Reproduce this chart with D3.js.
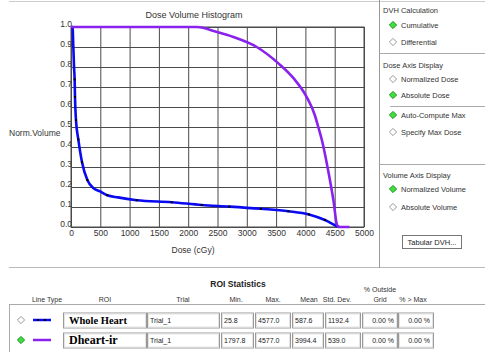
<!DOCTYPE html>
<html>
<head>
<meta charset="utf-8">
<script src="https://cdn.jsdelivr.net/npm/d3@7"></script>
<style>
  body { margin: 0; background: #fff; }
  svg { display: block; font-family: "Liberation Sans", Arial, sans-serif; }
</style>
</head>
<body>
<svg id="svg" width="485" height="354"></svg>
<script>
// ---- chart data ----
const doseTicks = [0, 500, 1000, 1500, 2000, 2500, 3000, 3500, 4000, 4500, 5000];
const volTicks = [0, 0.1, 0.2, 0.3, 0.4, 0.5, 0.6, 0.7, 0.8, 0.9, 1.0];

const heartDose = [0, 26, 40, 52, 62, 68, 85, 125, 188, 279, 381, 495, 620, 800, 1121, 1718, 2230, 2702, 3242, 3709, 4061, 4334, 4534, 4577];
const heartVol  = [1.0, 1.0, 0.9, 0.8, 0.738, 0.651, 0.534, 0.438, 0.324, 0.235, 0.195, 0.178, 0.159, 0.148, 0.134, 0.124, 0.11, 0.102, 0.091, 0.079, 0.063, 0.035, 0.005, 0];
const heartMarks = [4, 5, 6, 7, 8, 9, 12, 14, 15, 16, 17, 18, 19, 20, 21]; // points drawn with a dot

const dheartDose = [0, 2150, 2490, 2770, 3170, 3540, 3800, 4020, 4160, 4220, 4280, 4390, 4480, 4540, 4577, 4750];
const dheartVol  = [1.0, 1.0, 0.975, 0.95, 0.9, 0.818, 0.743, 0.651, 0.56, 0.5, 0.436, 0.28, 0.13, 0.01, 0, 0];

// ---- ROI statistics ----
const roiNames   = ["Whole Heart", "Dheart-ir"];
const roiColors  = ["#0a0af0", "#8a22ee"];
const roiShown   = [false, true];
const trials     = ["Trial_1", "Trial_1"];
const minDose    = ["25.8", "1797.8"];
const maxDose    = ["4577.0", "4577.0"];
const meanDose   = ["587.6", "3994.4"];
const stdDev     = ["1192.4", "539.0"];
const pctOutside = ["0.00 %", "0.00 %"];
const pctOverMax = ["0.00 %", "0.00 %"];

// ---- option panel ----
const panelTitles = ["DVH Calculation", "Dose Axis Display", "Volume Axis Display"];
const panelItems = [
  ["Cumulative", "Differential"],
  ["Normalized Dose", "Absolute Dose", "Auto-Compute Max", "Specify Max Dose"],
  ["Normalized Volume", "Absolute Volume"]
];
const panelChecked = [[true, false], [false, true, true, false], [true, false]];

const svg = d3.select("#svg");
const ink = "#333";

// frame lines
svg.append("line").attr("x1", 9).attr("x2", 485).attr("y1", 1.5).attr("y2", 1.5).attr("stroke", "#ccc");
svg.append("line").attr("x1", 9).attr("x2", 485).attr("y1", 267.5).attr("y2", 267.5).attr("stroke", "#bbb");
svg.append("line").attr("x1", 379.5).attr("x2", 379.5).attr("y1", 0).attr("y2", 268).attr("stroke", "#999");

// ---- plot ----
const x = d3.scaleLinear().domain([0, 5000]).range([71, 364]);
const y = d3.scaleLinear().domain([0, 1]).range([227, 27]);

const plot = svg.append("g");

const gx = plot.append("g").attr("transform", "translate(0,227)")
  .call(d3.axisBottom(x).tickValues(doseTicks).tickFormat(d3.format("d")).tickSize(-200).tickPadding(2));
const gy = plot.append("g").attr("transform", "translate(71,0)")
  .call(d3.axisLeft(y).tickValues(volTicks).tickFormat(d3.format(".1f")).tickSize(-293).tickPadding(0));

[gx, gy].forEach(g => {
  g.select(".domain").remove();
  g.selectAll(".tick line").attr("stroke", "#4a4a4a").attr("stroke-width", 1);
  g.selectAll(".tick text").attr("fill", ink).attr("font-size", 8.5).attr("font-family", "Liberation Sans, Arial, sans-serif");
});
gy.selectAll(".tick text").attr("dy", "-0.6").attr("x", 1);
gx.selectAll(".tick text").attr("y", 3);

// plot border
plot.append("rect").attr("x", 71).attr("y", 27).attr("width", 293).attr("height", 200)
  .attr("fill", "none").attr("stroke", "#4a4a4a");

const line = d3.line().x(d => x(d[0])).y(d => y(d[1])).curve(d3.curveMonotoneX);

const heartPts = heartDose.map((d, i) => [d, heartVol[i]]);
const dheartPts = dheartDose.map((d, i) => [d, dheartVol[i]]);

plot.append("path").datum(heartPts).attr("d", line)
  .attr("fill", "none").attr("stroke", roiColors[0]).attr("stroke-width", 2.6).attr("stroke-linejoin", "round");
plot.selectAll(".mark").data(heartMarks.map(i => heartPts[i])).join("rect").attr("class", "mark")
  .attr("x", d => x(d[0]) - 1).attr("y", d => y(d[1]) - 1).attr("width", 2).attr("height", 2).attr("fill", "#000");
plot.append("path").datum(dheartPts).attr("d", line)
  .attr("fill", "none").attr("stroke", roiColors[1]).attr("stroke-width", 2.6).attr("stroke-linejoin", "round");

// titles
svg.append("text").attr("x", 194).attr("y", 18).attr("text-anchor", "middle")
  .attr("font-size", 9).attr("fill", ink).text("Dose Volume Histogram");
svg.append("text").attr("x", 9).attr("y", 136)
  .attr("font-size", 8.5).attr("fill", ink).text("Norm.Volume");
svg.append("text").attr("x", 193).attr("y", 253).attr("text-anchor", "middle")
  .attr("font-size", 8.5).attr("fill", ink).text("Dose (cGy)");

// ---- radio diamond ----
function diamond(g, cx, cy, on) {
  const r = 3.6;
  g.append("path")
    .attr("d", `M${cx},${cy - r}L${cx + r},${cy}L${cx},${cy + r}L${cx - r},${cy}Z`)
    .attr("fill", on ? "#3ee03e" : "#fff")
    .attr("stroke", on ? "#1f8f1f" : "#999").attr("stroke-width", 1);
}

// ---- option panel ----
const panel = svg.append("g");
const titleY = [10, 65, 175];
const itemY = [[25, 42], [79, 95, 115, 132], [189, 207]];
panelTitles.forEach((t, s) => {
  panel.append("text").attr("x", 383).attr("y", titleY[s] + 3).attr("font-size", 7.5).attr("fill", ink).text(t);
  panelItems[s].forEach((it, k) => {
    diamond(panel, 393, itemY[s][k], panelChecked[s][k]);
    panel.append("text").attr("x", 401).attr("y", itemY[s][k] + 3).attr("font-size", 7.5).attr("fill", ink).text(it);
  });
});
[[379, 53], [390, 106], [379, 164]].forEach(([x0, yy]) => {
  panel.append("line").attr("x1", x0).attr("x2", 485).attr("y1", yy + 0.5).attr("y2", yy + 0.5).attr("stroke", "#aaa");
});
panel.append("rect").attr("x", 402.5).attr("y", 235.5).attr("width", 59).attr("height", 13)
  .attr("fill", "#fff").attr("stroke", "#777");
panel.append("text").attr("x", 432).attr("y", 245).attr("text-anchor", "middle")
  .attr("font-size", 7.5).attr("fill", "#222").text("Tabular DVH...");

// ---- ROI statistics table ----
const tbl = svg.append("g");
tbl.append("text").attr("x", 238).attr("y", 287).attr("text-anchor", "middle")
  .attr("font-size", 8.5).attr("font-weight", "bold").attr("fill", "#222").text("ROI Statistics");

const headers = [["Line Type", 47], ["ROI", 105], ["Trial", 183], ["Min.", 236], ["Max.", 273],
  ["Mean", 309], ["Std. Dev.", 337], ["Grid", 380], ["% > Max", 413]];
headers.forEach(([h, hx]) => tbl.append("text").attr("x", hx).attr("y", 302).attr("text-anchor", "middle")
  .attr("font-size", 7).attr("fill", ink).text(h));
tbl.append("text").attr("x", 380).attr("y", 292).attr("text-anchor", "middle")
  .attr("font-size", 7).attr("fill", ink).text("% Outside");

tbl.append("line").attr("x1", 9).attr("x2", 485).attr("y1", 304.5).attr("y2", 304.5).attr("stroke", "#aaa");
tbl.append("line").attr("x1", 9.5).attr("x2", 9.5).attr("y1", 304).attr("y2", 352).attr("stroke", "#aaa");

function box(g, x0, x1, cy, txt, align, big) {
  const h = 15;
  g.append("rect").attr("x", x0 + 0.5).attr("y", cy - h / 2 + 0.5).attr("width", x1 - x0).attr("height", h)
    .attr("fill", "#fff").attr("stroke", "#999");
  g.append("rect").attr("x", x0 + 1.5).attr("y", cy - h / 2 + 1.5).attr("width", x1 - x0 - 2).attr("height", h - 2)
    .attr("fill", "none").attr("stroke", "#e4e4e4");
  const t = g.append("text").attr("y", cy + (big ? 4 : 2.6)).attr("fill", big ? "#000" : "#222");
  if (big) t.attr("font-family", "Liberation Serif, Times New Roman, serif").attr("font-weight", "bold").attr("font-size", big);
  else t.attr("font-size", 7);
  if (align === "end") t.attr("x", x1 - 3).attr("text-anchor", "end");
  else t.attr("x", x0 + (big ? 6 : 3));
  t.text(txt);
}

const rowY = [320, 340];
roiNames.forEach((name, i) => {
  const cy = rowY[i];
  diamond(tbl, 21, cy, roiShown[i]);
  tbl.append("line").attr("x1", 33).attr("x2", 51).attr("y1", cy).attr("y2", cy)
    .attr("stroke", roiColors[i]).attr("stroke-width", 2.5);
  if (i === 0) {
    [38, 45].forEach(mx => tbl.append("rect").attr("x", mx - 1).attr("y", cy - 1).attr("width", 2).attr("height", 2).attr("fill", "#000"));
  }
  box(tbl, 63, 146, cy, name, "start", i === 0 ? 10.5 : 12);
  box(tbl, 147, 219, cy, trials[i], "start");
  box(tbl, 221, 253, cy, minDose[i], "start");
  box(tbl, 255, 290, cy, maxDose[i], "start");
  box(tbl, 292, 323, cy, meanDose[i], "start");
  box(tbl, 325, 360, cy, stdDev[i], "start");
  box(tbl, 362, 397, cy, pctOutside[i], "end");
  box(tbl, 398, 433, cy, pctOverMax[i], "end");
});
</script>
</body>
</html>
